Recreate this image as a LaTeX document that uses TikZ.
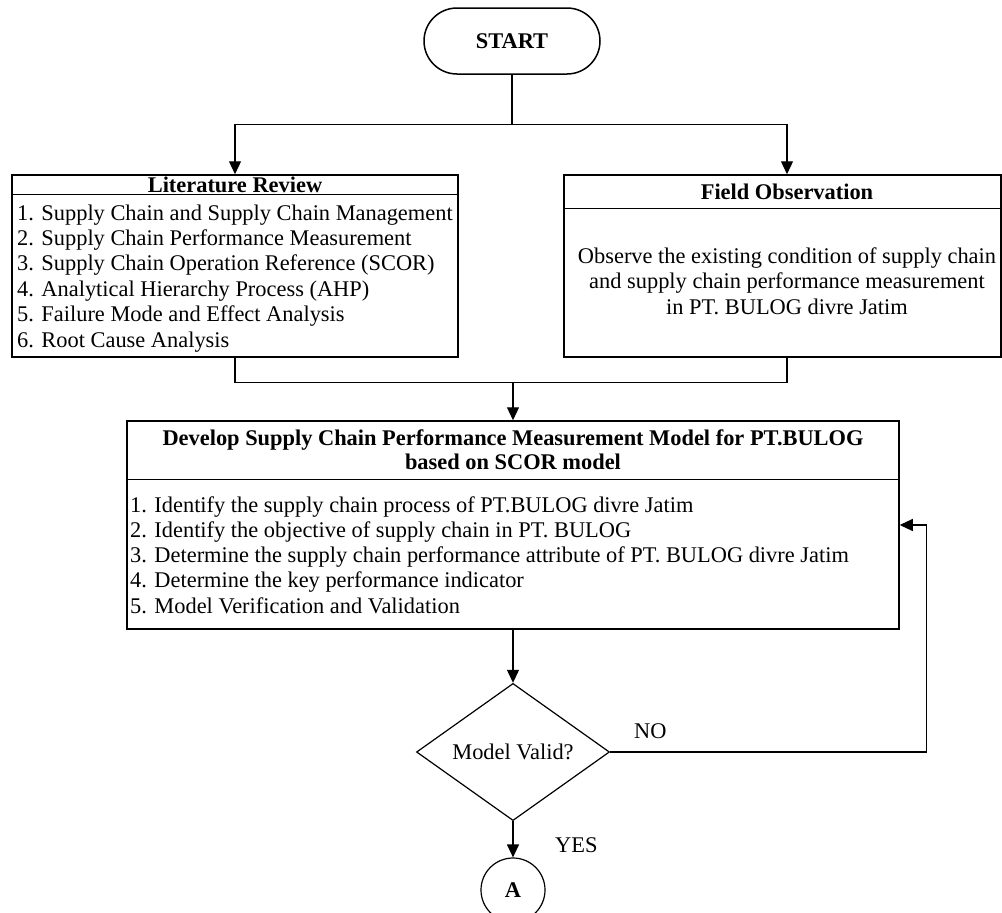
\documentclass[tikz,border=0pt]{standalone}
\usepackage{fontspec}
\setmainfont{Liberation Serif}
\usetikzlibrary{arrows.meta,shapes.geometric,calc}
\begin{document}
\begin{tikzpicture}[x=1pt,y=-1pt,
  font=\fontsize{22.4}{25.4}\selectfont,
  bfont/.style={font=\fontsize{22.4}{25.4}\selectfont\bfseries},
  box/.style={draw,line width=1.5pt,rectangle,inner sep=0pt},
  sepline/.style={line width=1.5pt},
  conn/.style={line width=1.2pt},
  arr/.style={conn,-{Triangle[width=12pt,length=13pt]}},
  txt/.style={inner sep=0pt}
]
\path[use as bounding box] (0,0) rectangle (1002,913);
\clip (0,0) rectangle (1002,913);

% START
\node[box,rounded corners=33pt,minimum width=176pt,minimum height=66pt,bfont] (start) at (512,41) {START};

% Literature Review
\node[box,minimum width=446pt,minimum height=182pt] (lit) at (235,266) {};
\draw[sepline] ($(lit.north west)+(0,20)$) -- ($(lit.north east)+(0,20)$);
\node[txt,anchor=base,bfont] (lith) at (235,192) {Literature Review};
\foreach \t [count=\i] in {%
  {1. Supply Chain and Supply Chain Management},
  {2. Supply Chain Performance Measurement},
  {3. Supply Chain Operation Reference (SCOR)},
  {4. Analytical Hierarchy Process (AHP)},
  {5. Failure Mode and Effect Analysis},
  {6. Root Cause Analysis}}
  \node[txt,anchor=base west] (lit\i) at (17,{220+25.4*(\i-1)}) {\t};

% Field Observation
\node[box,minimum width=437pt,minimum height=182pt] (field) at (782.5,266) {};
\draw[sepline] ($(field.north west)+(0,34)$) -- ($(field.north east)+(0,34)$);
\node[txt,anchor=base,bfont] (fieldh) at (787,199) {Field Observation};
\node[txt,anchor=base] (field1) at (787,263) {Observe the existing condition of supply chain};
\node[txt,anchor=base] (field2) at (787,288.5) {and supply chain performance measurement};
\node[txt,anchor=base] (field3) at (787,314) {in PT. BULOG divre Jatim};

% Develop
\node[box,minimum width=772pt,minimum height=208pt] (dev) at (513,525) {};
\draw[sepline] ($(dev.north west)+(0,59)$) -- ($(dev.north east)+(0,59)$);
\node[txt,anchor=base,bfont] (devh1) at (513,445) {Develop Supply Chain Performance Measurement Model for PT.BULOG};
\node[txt,anchor=base,bfont] (devh2) at (513,469.5) {based on SCOR model};
\foreach \t [count=\i] in {%
  {1. Identify the supply chain process of PT.BULOG divre Jatim},
  {2. Identify the objective of supply chain in PT. BULOG},
  {3. Determine the supply chain performance attribute of PT. BULOG divre Jatim},
  {4. Determine the key performance indicator},
  {5. Model Verification and Validation}}
  \node[txt,anchor=base west] (dev\i) at (130,{512+25.3*(\i-1)}) {\t};

% Decision
\node[draw,diamond,line width=1.2pt,minimum width=193pt,minimum height=119pt,inner sep=0pt] (dec) at (513,752) {Model Valid?};

% Connector A
\node[draw,circle,line width=1.2pt,minimum size=64pt,inner sep=0pt,bfont] (A) at (513,890) {A};

% Labels
\node[txt,anchor=base west] (no) at (634,738) {NO};
\node[txt,anchor=base west] (yes) at (555,852) {YES};

% Connectors
\coordinate (fork) at ($(start.south)+(0,50)$);
\coordinate (fieldin) at ($(field.north)+(4.5,0)$);
\coordinate (fieldout) at ($(field.south)+(4.5,0)$);
\coordinate (join) at ($(lit.south)+(0,25)$);
\coordinate (fb) at ($(dec.east)+(316,0)$);
\draw[conn] (start.south) -- (fork);
\draw[arr] (fork) -| (lit.north);
\draw[arr] (fork) -| (fieldin);
\draw[conn] (lit.south) -- (join) -| (fieldout);
\draw[arr] (join -| dev.north) -- (dev.north);
\draw[arr] (dev.south) -- (dec.north);
\draw[arr] (dec.south) -- (A.north);
\draw[arr] (dec.east) -- (fb) |- (dev.east);
\end{tikzpicture}
\end{document}
